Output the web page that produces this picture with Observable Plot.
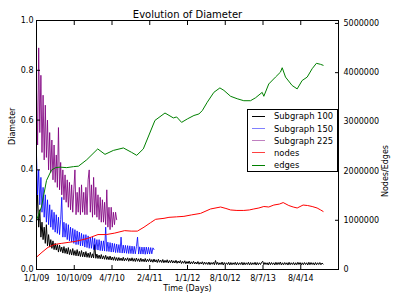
<!DOCTYPE html>
<html>
<head>
<meta charset="utf-8">
<script src="https://cdn.jsdelivr.net/npm/d3@7"></script>
<script src="https://cdn.jsdelivr.net/npm/@observablehq/plot@0.6"></script>
<style>
  body { margin: 0; background: #fff; }
  #wrap { position: relative; width: 399px; height: 299px; font-family: "DejaVu Sans", sans-serif; }
  #legend { position: absolute; left: 247px; top: 109px; width: 91px; height: 63px; border: 1px solid #000;
            background: #fff; box-sizing: border-box; font-size: 8.4px; color: #000; }
  .row { position: absolute; left: 0; height: 12px; display: flex; align-items: center; white-space: nowrap; }
  .sw { display: inline-block; width: 13px; height: 0; border-top: 1.2px solid; margin-left: 4px; margin-right: 9px; }
</style>
</head>
<body>
<div id="wrap"></div>
<script>
// ---- tick labels ----
const xTicks = [0, 275, 550, 825, 1100, 1375, 1650, 1925];
const xTickLabels = ["1/1/09", "10/10/09", "4/7/10", "2/4/11", "1/1/12", "8/10/12", "8/7/13", "8/4/14"];
const xTickMarks = [0, 275, 550, 825, 1100, 1375, 1650, 1925, 2200];
const yLeftTicks = [0, 0.2, 0.4, 0.6, 0.8, 1.0];
const yRightTicks = [0, 1000000, 2000000, 3000000, 4000000, 5000000];
const rightMax = 5060000;

// ---- series names / colours ----
const seriesNames = ["Subgraph 100", "Subgraph 150", "Subgraph 225", "nodes", "edges"];
const seriesColors = ["#000000", "#0000ff", "#800080", "#ff0000", "#008000"];
const legendColors = ["#000000", "#8080ff", "#c080c0", "#ff4040", "#008000"];

// ---- Subgraph 225 (diameter, sampled every 8 days from day 0) ----
const sub225Vals = [.72,.50,.89,.55,.78,.47,.70,.44,.66,.45,.60,.40,.55,.39,.52,.36,.50,.35,.46,.33,
  .57,.32,.43,.30,.40,.28,.38,.27,.36,.25,.35,.24,.34,.23,.32,.40,.22,.31,.23,.33,
  .22,.34,.23,.31,.22,.33,.22,.36,.40,.23,.34,.21,.37,.22,.33,.21,.30,.20,.29,.19,
  .28,.19,.27,.18,.32,.17,.25,.16,.25,.17,.23,.18,.23,.20];

// ---- Subgraph 150 (every 8 days from day 0) ----
const sub150Vals = [.46,.30,.40,.26,.37,.23,.33,.21,.30,.19,.28,.18,.26,.17,.24,.16,.23,.15,.22,.145,
  .21,.14,.20,.29,.13,.19,.13,.185,.12,.18,.115,.17,.11,.165,.105,.16,.10,.155,.10,.15,
  .095,.145,.095,.14,.09,.14,.088,.135,.085,.13,.085,.13,.08,.125,.08,.12,.078,.12,.076,.115,
  .075,.115,.074,.17,.073,.11,.072,.108,.07,.106,.07,.104,.068,.102,.068,.10,.067,.13,.066,.098,
  .066,.097,.065,.096,.064,.095,.064,.094,.063,.093,.063,.092,.13,.062,.091,.062,.09,.062,.09,.061,
  .09,.062,.089,.062,.088,.063,.087,.08];

// ---- Subgraph 100, early part (every 8 days from day 0) ----
const sub100EarlyVals = [.21,.30,.17,.24,.13,.19,.12,.17,.105,.18,.095,.14,.09,.12,.085,.115,.08,.105,.078,.10,
  .07,.098,.072,.09,.066,.092,.065,.085,.062,.088,.06,.08,.058,.084,.057,.076,.055,.08,.054,.073,
  .052,.076,.051,.07,.05,.072,.049,.066,.048,.069,.047,.063,.046,.10,.045,.062,.044,.058,.043,.06,
  .042,.055,.041,.057,.04,.052,.039,.054,.038,.05,.037,.051,.036,.048,.035];
// ---- Subgraph 100, later part (every 8 days from day 600) ----
const sub100LateVals = [
  .048,.036,.046,.035,.049,.034,.045,.036,.047,.033,
  .045,.034,.047,.033,.044,.032,.046,.033,.043,.031,
  .045,.032,.042,.031,.044,.030,.041,.032,.043,.030,
  .040,.029,.042,.030,.039,.028,.041,.029,.038,.028,
  .040,.027,.037,.028,.039,.026,.036,.027,.038,.026,
  .035,.026,.037,.025,.034,.026,.036,.024,.033,.025,
  .035,.023,.032,.024,.034,.022,.031,.023,.033,.022,
  .030,.022,.032,.021,.029,.022,.031,.020,.030,.021,
  .028,.020,.030,.019,.028,.021,.029,.019,.036,.020,
  .029,.019,.027,.020,.030,.018,.028,.019,.027,.020,
  .029,.018,.028,.019,.027,.020,.029,.018,.028,.019,
  .027,.020,.029,.018,.028,.019,.027,.020,.029,.018,
  .028,.019,.027,.020,.029,.018,.028,.019,.027,.020,
  .029,.033,.019,.028,.020,.027,.018,.029,.019,.028,
  .020,.027,.018,.029,.019,.028,.020,.030,.018,.027,
  .019,.028,.020,.027,.018,.029,.019,.027,.020,.028,
  .018,.027,.019,.029,.020,.028,.018,.027,.019,.028,
  .020,.027,.018,.029,.019,.028,.020,.027,.018,.028,
  .019,.027,.020,.028,.019,.026,.022];

// ---- nodes (right axis) ----
const nodeDays = [0,40,84,133,180,230,280,327,370,400,448,509,570,642,690,735,783,830,868,929,
  965,1020,1074,1130,1195,1268,1341,1380,1414,1460,1510,1550,1583,1620,1656,1692,1729,1770,1797,1838,
  1870,1899,1942,1975,2008,2044,2070,2088];
const nodeVals = [250000,350000,450000,510000,530000,550000,570000,600000,630000,660000,710000,710000,740000,790000,780000,780000,860000,950000,1020000,1040000,
  1060000,1070000,1080000,1110000,1140000,1230000,1270000,1240000,1210000,1200000,1200000,1210000,1230000,1250000,1280000,1270000,1310000,1330000,1360000,1300000,
  1270000,1250000,1310000,1300000,1280000,1250000,1210000,1180000];

// ---- edges (right axis) ----
const edgeDays = [0,36,73,109,140,172,220,269,306,366,446,499,560,633,693,730,778,863,936,997,
  1021,1057,1099,1147,1183,1208,1244,1292,1336,1365,1414,1462,1510,1559,1596,1644,1656,1692,1741,1777,
  1790,1814,1862,1899,1935,1972,2008,2039,2068,2088];
const edgeVals = [1000000,1270000,1810000,2020000,2070000,2080000,2070000,2090000,2100000,2230000,2450000,2340000,2420000,2470000,2380000,2320000,2450000,3030000,3180000,3080000,
  3100000,2990000,3060000,3130000,3160000,3230000,3400000,3600000,3690000,3640000,3520000,3470000,3430000,3430000,3490000,3600000,3520000,3770000,3910000,4010000,
  4100000,3910000,3740000,3670000,3840000,3910000,4080000,4190000,4170000,4150000];

// ---- build tables ----
const sampled = (start, step, vals) => vals.map((v, i) => ({day: start + i * step, v}));
const sub100 = sampled(0, 8, sub100EarlyVals).concat(sampled(600, 8, sub100LateVals));
const sub150 = sampled(0, 8, sub150Vals);
const sub225 = sampled(0, 8, sub225Vals);
const nodes = nodeDays.map((d, i) => ({day: d, v: nodeVals[i]}));
const edges = edgeDays.map((d, i) => ({day: d, v: edgeVals[i]}));

const fmtRight = d3.format("d");

const chart = Plot.plot({
  width: 399,
  height: 299,
  marginLeft: 36,
  marginRight: 61,
  marginTop: 20,
  marginBottom: 30,
  style: {fontFamily: "DejaVu Sans, sans-serif", fontSize: "8px", background: "white", color: "black", overflow: "visible"},
  x: {domain: [0, 2200]},
  y: {domain: [0, 1]},
  marks: [
    Plot.line(sub100, {x: "day", y: "v", stroke: seriesColors[0], strokeWidth: 1}),
    Plot.line(sub150, {x: "day", y: "v", stroke: seriesColors[1], strokeWidth: 1, strokeOpacity: 0.8}),
    Plot.line(sub225, {x: "day", y: "v", stroke: seriesColors[2], strokeWidth: 1, strokeOpacity: 0.85}),
    Plot.line(nodes, {x: "day", y: d => d.v / rightMax, stroke: seriesColors[3], strokeWidth: 1}),
    Plot.line(edges, {x: "day", y: d => d.v / rightMax, stroke: seriesColors[4], strokeWidth: 1}),
    Plot.frame({stroke: "black", strokeWidth: 1}),
    // inward tick marks
    Plot.axisX(xTickMarks, {anchor: "bottom", tickSize: -4, tickFormat: () => "", label: null}),
    Plot.axisX(xTickMarks, {anchor: "top", tickSize: -4, tickFormat: () => "", label: null}),
    Plot.axisY(yLeftTicks, {anchor: "left", tickSize: -4, tickFormat: () => "", label: null}),
    Plot.axisY(yRightTicks.map(v => v / rightMax), {anchor: "right", tickSize: -4, tickFormat: () => "", label: null}),
    // tick labels
    Plot.axisX(xTicks, {anchor: "bottom", tickSize: 0, tickPadding: 6, tickFormat: d => xTickLabels[xTicks.indexOf(d)], label: null}),
    Plot.axisY(yLeftTicks, {anchor: "left", tickSize: 0, tickPadding: 3, tickFormat: d3.format(".1f"), label: null}),
    Plot.axisY(yRightTicks.map(v => v / rightMax), {anchor: "right", tickSize: 0, tickPadding: 5,
      tickFormat: d => fmtRight(Math.round(d * rightMax)), label: null}),
    // title and axis labels
    Plot.text(["Evolution of Diameter"], {frameAnchor: "top", dy: -10, fontSize: 10, text: d => d}),
    Plot.text(["Time (Days)"], {frameAnchor: "bottom", dy: 21, fontSize: 8, text: d => d}),
    Plot.text(["Diameter"], {frameAnchor: "left", dx: -24, rotate: -90, fontSize: 8, text: d => d}),
    Plot.text(["Nodes/Edges"], {frameAnchor: "right", dx: 47, rotate: -90, fontSize: 8, text: d => d})
  ]
});

const wrap = document.getElementById("wrap");
wrap.appendChild(chart);

// legend box
const legend = document.createElement("div");
legend.id = "legend";
seriesNames.forEach((name, i) => {
  const row = document.createElement("div");
  row.className = "row";
  row.style.top = (0.3 + i * 12.2) + "px";
  const sw = document.createElement("span");
  sw.className = "sw";
  sw.style.borderTopColor = legendColors[i];
  const label = document.createElement("span");
  label.textContent = name;
  row.appendChild(sw);
  row.appendChild(label);
  legend.appendChild(row);
});
wrap.appendChild(legend);
</script>
</body>
</html>
